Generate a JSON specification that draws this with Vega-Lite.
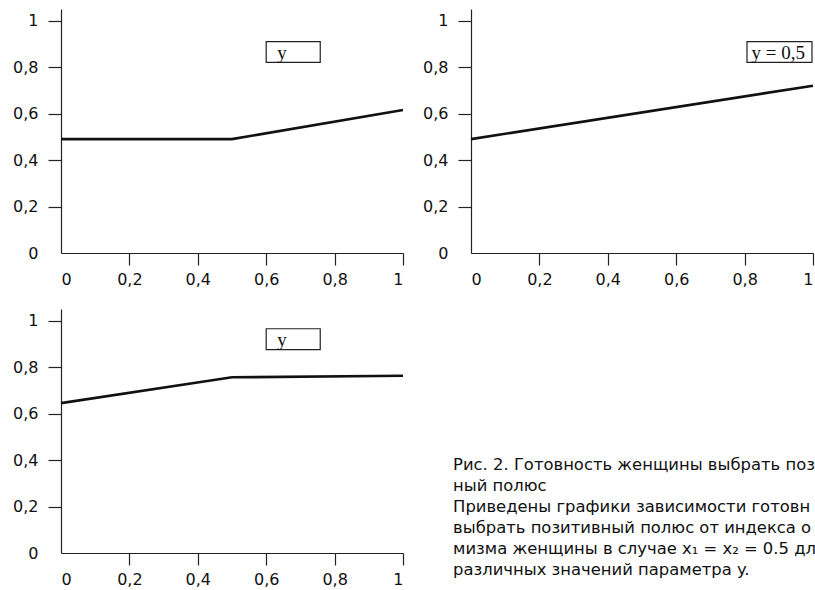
{
  "$schema": "https://vega.github.io/schema/vega-lite/v6.json",
  "background": "white",
  "padding": {"left": 12, "top": 9, "right": 0, "bottom": 0},
  "bounds": "flush",
  "columns": 2,
  "spacing": {"row": 56, "column": 68},
  "config": {
    "view": {"stroke": null},
    "axis": {
      "grid": false,
      "domainColor": "#222",
      "labelColor": "#111",
      "labelFont": "DejaVu Sans",
      "labelFontSize": 16,
      "domainWidth": 1.2,
      "tickWidth": 1.2
    }
  },
  "concat": [
    {
      "width": 342,
      "height": 244,
      "layer": [
        {
          "data": {"values": [{"x": 0, "v": 0.49}, {"x": 0.5, "v": 0.49}, {"x": 1, "v": 0.615}]},
          "mark": {"type": "line", "color": "#111", "strokeWidth": 2.6},
          "encoding": {
            "x": {"field": "x", "type": "quantitative", "scale": {"domain": [0, 1], "nice": false},
              "axis": {"title": null, "tickSize": 12, "labelPadding": 6, "values": [0, 0.2, 0.4, 0.6, 0.8, 1], "labelExpr": "datum.value == 0 ? '\u2002\u00a00' : datum.value == 1 ? '1' : replace(format(datum.value, '.1f'), '.', ',')",
                "tickColor": {"condition": {"test": "datum.value == 0", "value": "transparent"}, "value": "#222"}}},
            "y": {"field": "v", "type": "quantitative", "scale": {"domain": [0, 1.05], "nice": false},
              "axis": {"title": null, "tickSize": 13, "labelPadding": 10, "values": [0, 0.2, 0.4, 0.6, 0.8, 1], "labelExpr": "datum.value == 0 ? '0' : datum.value == 1 ? '1' : replace(format(datum.value, '.1f'), '.', ',')",
                "tickColor": {"condition": {"test": "datum.value == 0", "value": "transparent"}, "value": "#222"}}}
          }
        },
        {
          "data": {"values": [{"x1": 0.6, "x2": 0.758, "y1": 0.82, "y2": 0.91, "tx": 0.632, "ty": 0.862, "label": "y"}]},
          "layer": [
            {
              "mark": {"type": "rect", "fill": "white", "stroke": "#222", "strokeWidth": 1.2},
              "encoding": {
                "x": {"field": "x1", "type": "quantitative", "scale": {"domain": [0, 1], "nice": false}, "axis": {"title": null}},
                "x2": {"field": "x2"},
                "y": {"field": "y1", "type": "quantitative", "scale": {"domain": [0, 1.05], "nice": false}, "axis": {"title": null}},
                "y2": {"field": "y2"}
              }
            },
            {
              "mark": {"type": "text", "font": "Liberation Serif", "fontSize": 19, "align": "left", "baseline": "middle", "color": "#111"},
              "encoding": {
                "x": {"field": "tx", "type": "quantitative", "scale": {"domain": [0, 1], "nice": false}, "axis": {"title": null}},
                "y": {"field": "ty", "type": "quantitative", "scale": {"domain": [0, 1.05], "nice": false}, "axis": {"title": null}},
                "text": {"field": "label"}
              }
            }
          ]
        }
      ]
    },
    {
      "width": 342,
      "height": 244,
      "layer": [
        {
          "data": {"values": [{"x": 0, "v": 0.49}, {"x": 1, "v": 0.72}]},
          "mark": {"type": "line", "color": "#111", "strokeWidth": 2.6},
          "encoding": {
            "x": {"field": "x", "type": "quantitative", "scale": {"domain": [0, 1], "nice": false},
              "axis": {"title": null, "tickSize": 12, "labelPadding": 6, "values": [0, 0.2, 0.4, 0.6, 0.8, 1], "labelExpr": "datum.value == 0 ? '\u2002\u00a00' : datum.value == 1 ? '1' : replace(format(datum.value, '.1f'), '.', ',')",
                "tickColor": {"condition": {"test": "datum.value == 0", "value": "transparent"}, "value": "#222"}}},
            "y": {"field": "v", "type": "quantitative", "scale": {"domain": [0, 1.05], "nice": false},
              "axis": {"title": null, "tickSize": 13, "labelPadding": 10, "values": [0, 0.2, 0.4, 0.6, 0.8, 1], "labelExpr": "datum.value == 0 ? '0' : datum.value == 1 ? '1' : replace(format(datum.value, '.1f'), '.', ',')",
                "tickColor": {"condition": {"test": "datum.value == 0", "value": "transparent"}, "value": "#222"}}}
          }
        },
        {
          "data": {"values": [{"x1": 0.807, "x2": 0.997, "y1": 0.82, "y2": 0.91, "tx": 0.82, "ty": 0.862, "label": "y = 0,5"}]},
          "layer": [
            {
              "mark": {"type": "rect", "fill": "white", "stroke": "#222", "strokeWidth": 1.2},
              "encoding": {
                "x": {"field": "x1", "type": "quantitative", "scale": {"domain": [0, 1], "nice": false}, "axis": {"title": null}},
                "x2": {"field": "x2"},
                "y": {"field": "y1", "type": "quantitative", "scale": {"domain": [0, 1.05], "nice": false}, "axis": {"title": null}},
                "y2": {"field": "y2"}
              }
            },
            {
              "mark": {"type": "text", "font": "Liberation Serif", "fontSize": 19, "align": "left", "baseline": "middle", "color": "#111"},
              "encoding": {
                "x": {"field": "tx", "type": "quantitative", "scale": {"domain": [0, 1], "nice": false}, "axis": {"title": null}},
                "y": {"field": "ty", "type": "quantitative", "scale": {"domain": [0, 1.05], "nice": false}, "axis": {"title": null}},
                "text": {"field": "label"}
              }
            }
          ]
        }
      ]
    },
    {
      "width": 342,
      "height": 244,
      "layer": [
        {
          "data": {"values": [{"x": 0, "v": 0.645}, {"x": 0.5, "v": 0.756}, {"x": 1, "v": 0.763}]},
          "mark": {"type": "line", "color": "#111", "strokeWidth": 2.6},
          "encoding": {
            "x": {"field": "x", "type": "quantitative", "scale": {"domain": [0, 1], "nice": false},
              "axis": {"title": null, "tickSize": 12, "labelPadding": 6, "values": [0, 0.2, 0.4, 0.6, 0.8, 1], "labelExpr": "datum.value == 0 ? '\u2002\u00a00' : datum.value == 1 ? '1' : replace(format(datum.value, '.1f'), '.', ',')",
                "tickColor": {"condition": {"test": "datum.value == 0", "value": "transparent"}, "value": "#222"}}},
            "y": {"field": "v", "type": "quantitative", "scale": {"domain": [0, 1.05], "nice": false},
              "axis": {"title": null, "tickSize": 13, "labelPadding": 10, "values": [0, 0.2, 0.4, 0.6, 0.8, 1], "labelExpr": "datum.value == 0 ? '0' : datum.value == 1 ? '1' : replace(format(datum.value, '.1f'), '.', ',')",
                "tickColor": {"condition": {"test": "datum.value == 0", "value": "transparent"}, "value": "#222"}}}
          }
        },
        {
          "data": {"values": [{"x1": 0.6, "x2": 0.758, "y1": 0.875, "y2": 0.965, "tx": 0.632, "ty": 0.917, "label": "y"}]},
          "layer": [
            {
              "mark": {"type": "rect", "fill": "white", "stroke": "#222", "strokeWidth": 1.2},
              "encoding": {
                "x": {"field": "x1", "type": "quantitative", "scale": {"domain": [0, 1], "nice": false}, "axis": {"title": null}},
                "x2": {"field": "x2"},
                "y": {"field": "y1", "type": "quantitative", "scale": {"domain": [0, 1.05], "nice": false}, "axis": {"title": null}},
                "y2": {"field": "y2"}
              }
            },
            {
              "mark": {"type": "text", "font": "Liberation Serif", "fontSize": 19, "align": "left", "baseline": "middle", "color": "#111"},
              "encoding": {
                "x": {"field": "tx", "type": "quantitative", "scale": {"domain": [0, 1], "nice": false}, "axis": {"title": null}},
                "y": {"field": "ty", "type": "quantitative", "scale": {"domain": [0, 1.05], "nice": false}, "axis": {"title": null}},
                "text": {"field": "label"}
              }
            }
          ]
        }
      ]
    },
    {
      "width": 345,
      "height": 280,
      "data": {"values": [
        {"i": 1, "t": "Рис. 2. Готовность женщины выбрать позитив-"},
        {"i": 2, "t": "ный полюс"},
        {"i": 3, "t": "Приведены графики зависимости готовности женщины"},
        {"i": 4, "t": "выбрать позитивный полюс от индекса опти-"},
        {"i": 5, "t": "мизма женщины в случае x₁ = x₂ = 0.5 для"},
        {"i": 6, "t": "различных значений параметра y."}
      ]},
      "mark": {"type": "text", "align": "left", "baseline": "alphabetic", "font": "DejaVu Sans", "fontSize": 16.4, "color": "#111", "limit": 366, "ellipsis": "\u200b"},
      "encoding": {
        "x": {"datum": -0.052, "type": "quantitative", "scale": {"domain": [0, 1], "nice": false, "zero": false}, "axis": null},
        "y": {"field": "i", "type": "quantitative", "scale": {"domain": [-6.648, 6.686], "range": [0, 280], "nice": false, "zero": false}, "axis": null},
        "text": {"field": "t"}
      }
    }
  ]
}
